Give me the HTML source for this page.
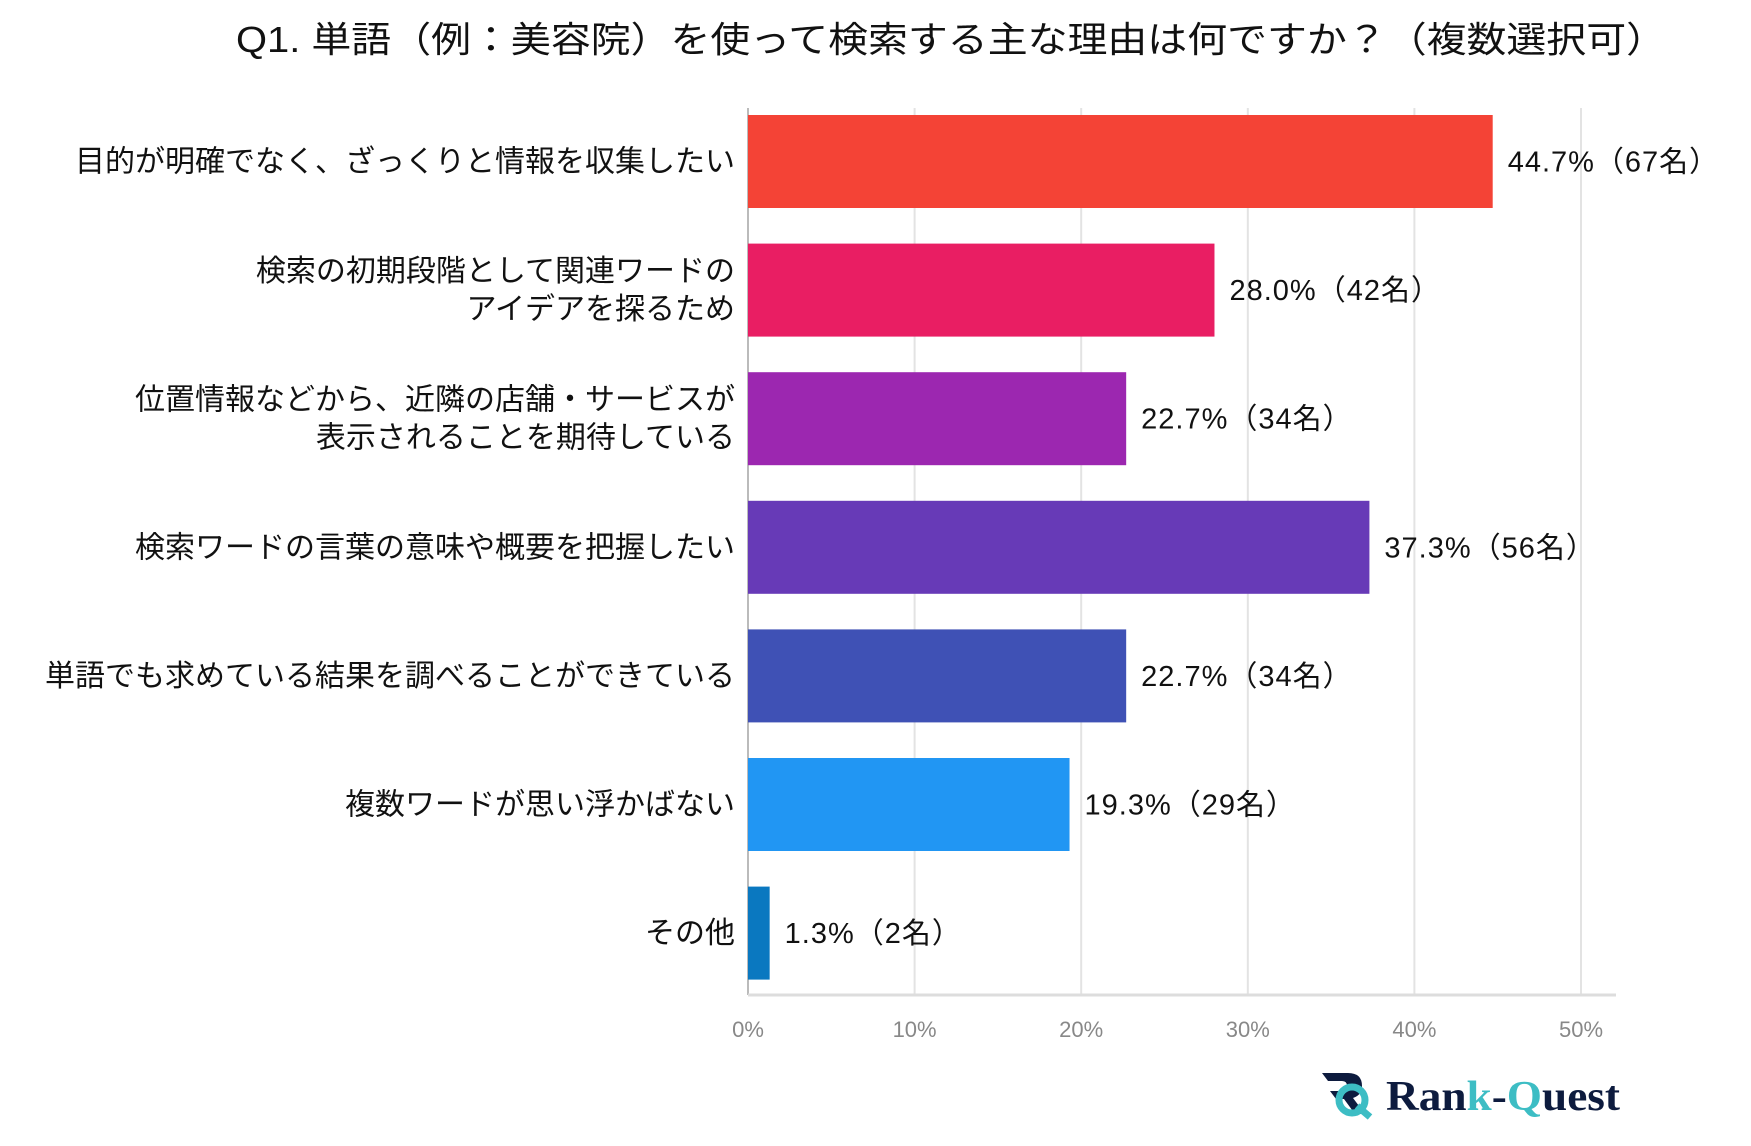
<!DOCTYPE html>
<html><head><meta charset="utf-8">
<style>
html,body{margin:0;padding:0;background:#fff;}
body{width:1751px;height:1141px;overflow:hidden;position:relative;font-family:"Liberation Sans","Noto Sans CJK JP",sans-serif;}
svg text{font-family:"Liberation Sans","Noto Sans CJK JP",sans-serif;}
</style></head>
<body>
<svg id="chart" width="1751" height="1141" xmlns="http://www.w3.org/2000/svg">
<text x="951" y="52" text-anchor="middle" font-size="36" fill="#111" textLength="1430" lengthAdjust="spacingAndGlyphs">Q1. 単語（例：美容院）を使って検索する主な理由は何ですか？（複数選択可）</text>
<g id="grid"></g><g id="bars"></g><g id="labels"></g><g id="ticks"></g>
<g>
<path d="M1322 1073 h26 q14 0 14 13 q0 9 -9 12 l12 16 h-10 l-11 -15 h-8 l-6 -8 h12 q5 0 5 -5 q0 -5 -5 -5 h-14 z" fill="#0d1b3e"/>
<circle cx="1352" cy="1100" r="13" fill="none" stroke="#3dbdc4" stroke-width="7"/>
<line x1="1357" y1="1106" x2="1370" y2="1117" stroke="#3dbdc4" stroke-width="7"/>
<text x="1386" y="1110" style="font-family:'Liberation Serif',serif" font-weight="bold" font-size="42" fill="#0d1b3e" textLength="234" lengthAdjust="spacingAndGlyphs">Ran<tspan fill="#3dbdc4">k</tspan>-<tspan fill="#3dbdc4">Q</tspan>uest</text>
</g>
</svg>
<script>
const categories=[["目的が明確でなく、ざっくりと情報を収集したい"],["検索の初期段階として関連ワードの","アイデアを探るため"],["位置情報などから、近隣の店舗・サービスが","表示されることを期待している"],["検索ワードの言葉の意味や概要を把握したい"],["単語でも求めている結果を調べることができている"],["複数ワードが思い浮かばない"],["その他"]];
const values=[44.7,28.0,22.7,37.3,22.7,19.3,1.3];
const counts=[67,42,34,56,34,29,2];
const ticks=[0,10,20,30,40,50];
const colors=["#f44336","#e91e63","#9c27b0","#673ab7","#3f51b5","#2196f3","#0a78c0"];
const NS="http://www.w3.org/2000/svg";
const x0=748,pxPer=16.66,top0=115,step=128.6,bh=93,base=995;
const X=v=>x0+v*pxPer;
const Y=i=>top0+i*step;
function mk(t,a,p){const e=document.createElementNS(NS,t);for(const k in a)e.setAttribute(k,a[k]);p.appendChild(e);return e;}
const g=document.getElementById('grid'),b=document.getElementById('bars'),l=document.getElementById('labels'),tk=document.getElementById('ticks');
ticks.forEach(t=>{
 const ln=mk('line',{x1:X(t),x2:X(t),y1:108,y2:base,stroke:t===0?'#bbb':'#e3e3e3','stroke-width':2},g);
 
 
 const tx=mk('text',{x:X(t),y:1037,'text-anchor':'middle','font-size':22,fill:'#888'},tk);
 tx.textContent=t+'%';
 
 
});
const ax=mk('line',{x1:x0,x2:1616,y1:base,y2:base,stroke:'#ddd','stroke-width':3},g);


values.forEach((v,i)=>{
 const r=mk('rect',{x:x0,y:Y(i),width:X(v)-x0,height:bh,fill:colors[i]},b);
 
 
 const cy=Y(i)+bh/2;
 const vt=mk('text',{x:X(v)+15,y:cy+10,'font-size':29,fill:'#111','letter-spacing':1},l);
 vt.textContent=v.toFixed(1)+'%（'+counts[i]+'名）';
 
 
 const lines=categories[i];
 lines.forEach((s,j)=>{
  const yy=cy+10+(j-(lines.length-1)/2)*38;
  const ct=mk('text',{x:735,y:yy,'text-anchor':'end','font-size':30,fill:'#111'},l);
  ct.textContent=s;
  
  
 });
});
</script>
</body></html>
